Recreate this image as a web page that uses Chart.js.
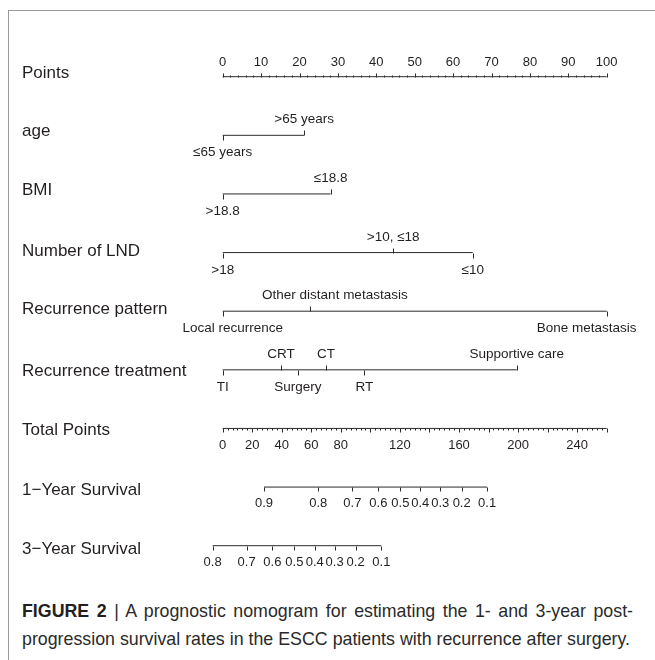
<!DOCTYPE html>
<html>
<head>
<meta charset="utf-8">
<script src="https://cdn.jsdelivr.net/npm/chart.js@4/dist/chart.umd.min.js"></script>
<style>
  body { margin: 0; background: #fff; }
  #wrap { position: relative; width: 655px; height: 660px; overflow: hidden; }
  #frame { position: absolute; left: 8px; top: 10px; width: 660px; height: 660px;
           border-top: 1.5px solid #9a9a9a; border-left: 1.5px solid #9a9a9a; }
  #nomo { position: absolute; left: 0; top: 0; }
  #caption { position: absolute; left: 22px; top: 597px;
             font-family: "Liberation Sans", Arial, sans-serif; font-size: 17.8px;
             line-height: 28px; color: #2a2a2a; }
  #caption div { text-align: justify; text-align-last: justify; white-space: nowrap; }
  #caption b { font-weight: bold; color: #231f20; }
</style>
</head>
<body>
<div id="wrap">
  <div id="frame"></div>
  <canvas id="nomo" width="655" height="580"></canvas>
  <div id="caption">
    <div style="width:611px"><b>FIGURE 2</b> | A prognostic nomogram for estimating the 1- and 3-year post-</div>
    <div style="width:608px">progression survival rates in the ESCC patients with recurrence after surgery.</div>
  </div>
</div>
<script>
// row names, top to bottom
const rowNames = ['Points', 'age', 'BMI', 'Number of LND', 'Recurrence pattern',
  'Recurrence treatment', 'Total Points', '1\u2212Year Survival', '3\u2212Year Survival'];

// points scale
const pointsMax = 100;
const pointsLabels = [0, 10, 20, 30, 40, 50, 60, 70, 80, 90, 100];

// predictors: level labels, points, label side
const ageLevels = ['\u226465 years', '>65 years'];
const agePoints = [0, 21.2];
const ageSide = ['below', 'above'];

const bmiLevels = ['>18.8', '\u226418.8'];
const bmiPoints = [0, 28.1];
const bmiSide = ['below', 'above'];

const lndLevels = ['>18', '>10, \u226418', '\u226410'];
const lndPoints = [0, 44.4, 65.1];
const lndSide = ['below', 'above', 'below'];

const patternLevels = ['Local recurrence', 'Other distant metastasis', 'Bone metastasis'];
const patternPoints = [0, 22.7, 100];
const patternSide = ['below', 'above', 'below'];

const treatLevels = ['TI', 'CRT', 'Surgery', 'CT', 'RT', 'Supportive care'];
const treatPoints = [0, 15.2, 19.6, 26.9, 36.9, 76.6];
const treatSide = ['below', 'above', 'below', 'above', 'below', 'above'];

// total points scale
const totalMax = 260;
const totalLabels = [0, 20, 40, 60, 80, 120, 160, 200, 240];

// survival scales (value -> total points)
const surv1Labels = ['0.9', '0.8', '0.7', '0.6', '0.5', '0.4', '0.3', '0.2', '0.1'];
const surv1Total = [28.0, 64.7, 87.8, 105.4, 120.3, 133.8, 147.3, 161.8, 179.0];
const surv3Labels = ['0.8', '0.7', '0.6', '0.5', '0.4', '0.3', '0.2', '0.1'];
const surv3Total = [-6.8, 16.2, 33.6, 48.5, 62.3, 75.8, 90.0, 107.4];

const toPts = t => t * pointsMax / totalMax;

const rows = [
  null,
  { levels: ageLevels, pts: agePoints, side: ageSide },
  { levels: bmiLevels, pts: bmiPoints, side: bmiSide },
  { levels: lndLevels, pts: lndPoints, side: lndSide },
  { levels: patternLevels, pts: patternPoints, side: patternSide },
  { levels: treatLevels, pts: treatPoints, side: treatSide }
];

// styling tweaks: row name offset from its line, label nudges where the original moved a label
const rowNameDy = [-3.5, -4.5, -3.5, -1.5, -1.5, 1.5, 1.5, 3.5, 3.5];
const labelNudge = { 'Local recurrence': 10, 'Other distant metastasis': 25, 'Bone metastasis': -20 };

const ink = '#231f20';
const lineCol = '#2b2b2b';
const seg = (a, b, y) => ({
  data: [{ x: a, y: y }, { x: b, y: y }],
  borderColor: lineCol, borderWidth: 1, pointRadius: 0, clip: false, showLine: true
});

const datasets = [seg(0, pointsMax, 0)];
rows.forEach((r, i) => {
  if (r) datasets.push(seg(Math.min(...r.pts), Math.max(...r.pts), i));
});
datasets.push(seg(0, toPts(totalMax), 6));
datasets.push(seg(toPts(surv1Total[0]), toPts(surv1Total[surv1Total.length - 1]), 7));
datasets.push(seg(toPts(surv3Total[0]), toPts(surv3Total[surv3Total.length - 1]), 8));

const nomoPlugin = {
  id: 'nomo',
  afterDatasetsDraw(chart) {
    const ctx = chart.ctx, xs = chart.scales.x, ys = chart.scales.y;
    const px = v => Math.round(xs.getPixelForValue(v)) + 0.5;
    const py = v => Math.round(ys.getPixelForValue(v)) + 0.5;
    ctx.save();
    ctx.strokeStyle = lineCol;
    ctx.lineWidth = 1;
    ctx.fillStyle = ink;
    const tick = (x, y, len) => { ctx.beginPath(); ctx.moveTo(x, y); ctx.lineTo(x, y + len); ctx.stroke(); };

    // row names
    ctx.font = '17px "Liberation Sans", Arial, sans-serif';
    ctx.textAlign = 'left';
    ctx.textBaseline = 'middle';
    rowNames.forEach((n, i) => ctx.fillText(n, 22, ys.getPixelForValue(i) + rowNameDy[i]));

    ctx.textAlign = 'center';
    ctx.font = '13px "Liberation Sans", Arial, sans-serif';

    // points axis: ticks up, labels above
    let y = py(0);
    for (let v = 0; v <= pointsMax; v += 2) tick(px(v), y, v % 10 === 0 ? -4 : -2);
    pointsLabels.forEach(v => ctx.fillText(String(v), xs.getPixelForValue(v), y - 15));

    // total points axis: ticks down, labels below
    y = py(6);
    for (let k = 0; k <= 78; k++) {
      const t = k * 10 / 3;
      tick(px(toPts(t)), y, k % 6 === 0 ? 4 : 2);
    }
    totalLabels.forEach(v => ctx.fillText(String(v), xs.getPixelForValue(toPts(v)), y + 17));

    // survival axes
    [[7, surv1Labels, surv1Total], [8, surv3Labels, surv3Total]].forEach(([row, labs, tot]) => {
      const yy = py(row);
      tot.forEach((t, k) => {
        tick(px(toPts(t)), yy, 4);
        ctx.fillText(labs[k], xs.getPixelForValue(toPts(t)), yy + 16);
      });
    });

    // predictor rows
    ctx.font = '13.5px "Liberation Sans", Arial, sans-serif';
    rows.forEach((r, i) => {
      if (!r) return;
      const yy = py(i);
      r.pts.forEach((p, k) => {
        const up = r.side[k] === 'above';
        tick(px(p), yy, up ? -5 : 5);
        const lab = r.levels[k];
        ctx.fillText(lab, xs.getPixelForValue(p) + (labelNudge[lab] || 0), yy + (up ? -16 : 17));
      });
    });
    ctx.restore();
  }
};

new Chart(document.getElementById('nomo'), {
  type: 'scatter',
  data: { datasets: datasets },
  options: {
    responsive: false,
    animation: false,
    events: [],
    layout: { padding: { left: 222.7, right: 48.3, top: 76.7, bottom: 34.3 } },
    plugins: { legend: { display: false }, tooltip: { enabled: false } },
    scales: {
      x: { type: 'linear', min: 0, max: pointsMax, display: false },
      y: { type: 'linear', min: 0, max: 8, reverse: true, display: false }
    }
  },
  plugins: [nomoPlugin]
});
</script>
</body>
</html>
